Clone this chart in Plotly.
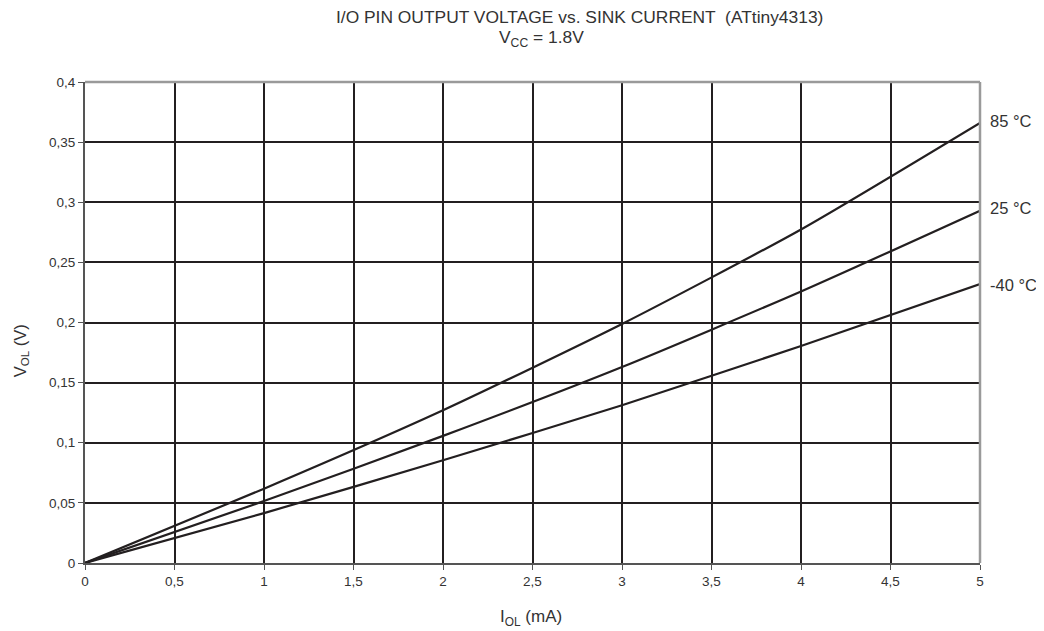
import plotly.graph_objects as go

# Data
i_ol = [0, 1, 2, 3, 4, 5]
v_85 = [0, 0.0618, 0.127, 0.1988, 0.2774, 0.366]
v_25 = [0, 0.0515, 0.1057, 0.163, 0.2258, 0.293]
v_m40 = [0, 0.0415, 0.0854, 0.1312, 0.1805, 0.232]
series_names = ["85 °C", "25 °C", "-40 °C"]
label_yshift = [2, 3, -1]

x_tickvals = [0, 0.5, 1, 1.5, 2, 2.5, 3, 3.5, 4, 4.5, 5]
x_ticktext = ["0", "0,5", "1", "1,5", "2", "2,5", "3", "3,5", "4", "4,5", "5"]
y_tickvals = [0, 0.05, 0.1, 0.15, 0.2, 0.25, 0.3, 0.35, 0.4]
y_ticktext = ["0", "0,05", "0,1", "0,15", "0,2", "0,25", "0,3", "0,35", "0,4"]

title_line1 = "I/O PIN OUTPUT VOLTAGE vs. SINK CURRENT  (ATtiny4313)"
title_line2 = "V<sub>CC</sub> = 1.8V"
x_title = "I<sub>OL</sub> (mA)"
y_title = "V<sub>OL</sub> (V)"

FONT = "Liberation Sans, Arial, sans-serif"
DARK = "#231f20"
TXT = "#333333"

fig = go.Figure()
for name, ys, ysh in zip(series_names, [v_85, v_25, v_m40], label_yshift):
    fig.add_trace(go.Scatter(x=i_ol, y=ys, mode="lines", name=name,
                             line=dict(color=DARK, width=2.2, shape="spline", smoothing=0.6),
                             showlegend=False, hoverinfo="skip"))
    fig.add_annotation(x=i_ol[-1], y=ys[-1], text=name, showarrow=False,
                       xanchor="left", yanchor="middle", xshift=9, yshift=ysh, borderpad=0,
                       font=dict(size=16.5, color=TXT, family=FONT))

# title lines (two differently centred lines as in the reference)
fig.add_annotation(xref="paper", yref="paper", x=0.553, y=1, xanchor="center", yanchor="middle",
                   yshift=65, text=title_line1, showarrow=False, borderpad=0,
                   font=dict(size=17.4, color=TXT, family=FONT))
fig.add_annotation(xref="paper", yref="paper", x=0.5095, y=1, xanchor="center", yanchor="middle",
                   yshift=44, text=title_line2, showarrow=False, borderpad=0,
                   font=dict(size=17.4, color=TXT, family=FONT))
# axis titles
fig.add_annotation(xref="paper", yref="paper", x=0.498, y=0, xanchor="center", yanchor="middle",
                   yshift=-55, text=x_title, showarrow=False, borderpad=0,
                   font=dict(size=17, color=TXT, family=FONT))
fig.add_annotation(xref="paper", yref="paper", x=0, y=0.44, xanchor="center", yanchor="middle",
                   xshift=-64, textangle=-90, text=y_title, showarrow=False, borderpad=0,
                   font=dict(size=16.5, color=TXT, family=FONT))

fig.add_shape(type="line", xref="paper", yref="paper", x0=0, x1=1, y0=1, y1=1,
              line=dict(color="#9a9a9a", width=2.5), layer="above")
fig.add_shape(type="line", xref="paper", yref="paper", x0=1, x1=1, y0=0, y1=1,
              line=dict(color="#9a9a9a", width=2.5), layer="above")

fig.update_layout(
    width=1036, height=623,
    margin=dict(l=77, r=64, t=74, b=68),
    paper_bgcolor="white", plot_bgcolor="white",
    font=dict(family=FONT, color=TXT, size=13.5),
)
fig.update_xaxes(range=[0, 5], tickvals=x_tickvals, ticktext=x_ticktext,
                 showgrid=True, gridcolor=DARK, gridwidth=2,
                 zeroline=False, showline=True, linecolor="#555", linewidth=2,
                 ticks="outside", ticklen=5, tickcolor="#555", tickwidth=1,
                 tickfont=dict(size=13.5, color=TXT))
fig.update_yaxes(range=[0, 0.4], tickvals=y_tickvals, ticktext=y_ticktext,
                 showgrid=True, gridcolor=DARK, gridwidth=2,
                 zeroline=False, showline=True, linecolor="#555", linewidth=2,
                 ticks="outside", ticklen=5, tickcolor="#555", tickwidth=1,
                 tickfont=dict(size=13.5, color=TXT))

fig.write_html("out.html")
